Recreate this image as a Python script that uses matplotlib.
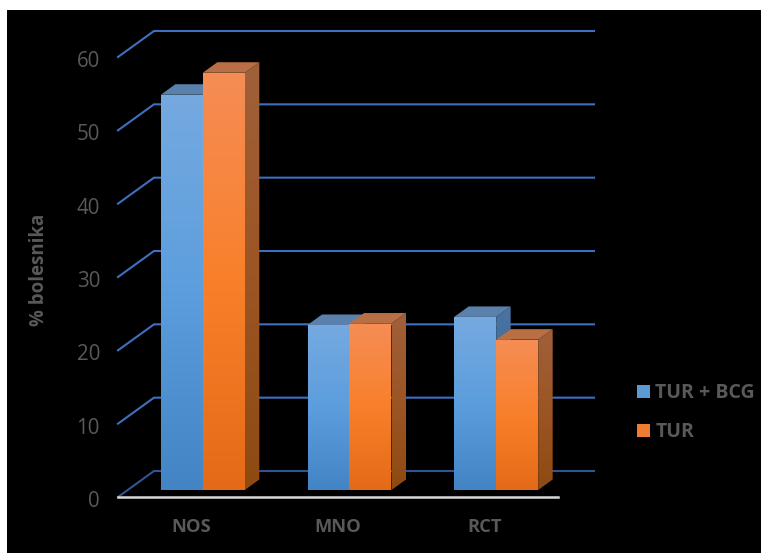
import numpy as np
import matplotlib
matplotlib.use("Agg")
import matplotlib.pyplot as plt
from matplotlib.colors import LinearSegmentedColormap
from matplotlib.patches import Patch, Polygon
from matplotlib.transforms import ScaledTranslation

# Data
categories = ["NOS", "MNO", "RCT"]
tur_bcg = [53.9, 22.5, 23.6]
tur = [56.9, 22.7, 20.5]
series_names = ["TUR + BCG", "TUR"]
y_ticks = [0, 10, 20, 30, 40, 50, 60]

W, H = 761, 553
PANEL_L, PANEL_T = 7, 10
PLANE_L, PLANE_R, PLANE_B, PLANE_T = 130, 570, 490, 50
X_UNIT = (PLANE_R - PLANE_L) / 3
Y_UNIT = (PLANE_B - PLANE_T) / 60

GREY = "#595959"
FONT = "Open Sans"

fig = plt.figure(figsize=(W / 100, H / 100), dpi=100, facecolor="white")
panel = fig.add_axes([PANEL_L / W, 0, 1 - PANEL_L / W, 1 - PANEL_T / H])
panel.set_facecolor("black")
panel.set_xticks([])
panel.set_yticks([])
for s in panel.spines.values():
    s.set_visible(False)

ax = fig.add_axes([PLANE_L / W, 1 - PLANE_B / H,
                   (PLANE_R - PLANE_L) / W, (PLANE_B - PLANE_T) / H])
ax.patch.set_alpha(0)
x_lim = (-0.5, 2.5)
y_lim = (0, 60)


def px(dx, dy):
    """Pixel offset (right, up) expressed in data units."""
    return dx / X_UNIT, dy / Y_UNIT


# Perspective offsets of the floor's front edge and of the back wall
fx, fy = px(-12, -7)
bx, by = px(24, 19)
# Depth of each bar
dx, dy = px(14.5, 10.5)
bar_w = 42 / X_UNIT


def gradient_fill(patch, colors, extent, zorder):
    ax.add_patch(patch)
    patch.set_visible(True)
    patch.set_facecolor("none")
    patch.set_edgecolor("none")
    patch.set_zorder(zorder)
    cmap = LinearSegmentedColormap.from_list("fill", colors)
    img = ax.imshow(np.linspace(0, 1, 256).reshape(-1, 1), cmap=cmap, aspect="auto",
                    extent=extent, origin="upper", zorder=zorder,
                    interpolation="bilinear")
    img.set_clip_path(patch)


# Gridlines on the back wall, with their slanted run along the side wall
for t in y_ticks:
    colour = "#2f5597" if t == 0 else "#3f6fc0"
    ax.plot([x_lim[0] + fx, x_lim[0] + bx, x_lim[1] + bx],
            [t + fy, t + by, t + by],
            color=colour, lw=1.5, clip_on=False, zorder=1, solid_joinstyle="miter")

# Floor edge
ax.plot([x_lim[0] + fx, x_lim[1] + fx], [fy, fy], color="#d9d9d9", lw=1.8,
        clip_on=False, zorder=2)

palettes = [
    {"front": ["#75a9e0", "#5c9edd", "#4384c4"], "side": ["#4a73a0", "#3d6a98", "#2f5c8c"],
     "top": "#5a80ac"},
    {"front": ["#f58d55", "#f9802b", "#e46a17"], "side": ["#a0603a", "#9c5524", "#8f4a12"],
     "top": "#b86f45"},
]

for k, (values, pal) in enumerate(zip([tur_bcg, tur], palettes)):
    base_z = 3 + k * 3
    positions = np.arange(len(categories)) + (k - 0.5) * bar_w - 0.5 / X_UNIT
    bars = ax.bar(positions, values, width=bar_w, color="none", zorder=base_z)
    for bar in bars:
        x0, x1 = bar.get_x(), bar.get_x() + bar.get_width()
        v = bar.get_height()
        side = Polygon([(x1, 0), (x1 + dx, dy), (x1 + dx, v + dy), (x1, v)], closed=True,
                       transform=ax.transData)
        side.set_clip_on(False)
        gradient_fill(side, pal["side"], (x1, x1 + dx, 0, v + dy), base_z)
        ax.add_patch(Polygon([(x0, v), (x0 + dx, v + dy), (x1 + dx, v + dy), (x1, v)],
                             closed=True, facecolor=pal["top"], edgecolor="none",
                             zorder=base_z + 1, clip_on=False))
        front = Polygon([(x0, 0), (x0, v), (x1, v), (x1, 0)], closed=True,
                        transform=ax.transData)
        gradient_fill(front, pal["front"], (x0, x1, 0, v), base_z + 2)

ax.set_xlim(*x_lim)
ax.set_ylim(*y_lim)
for s in ax.spines.values():
    s.set_visible(False)

# Tick labels sit on the floor's front plane
ax.set_yticks(y_ticks)
ax.set_yticklabels([str(t) for t in y_ticks], color=GREY, fontsize=14.8, fontfamily=FONT)
ax.set_xticks(range(len(categories)))
ax.set_xticklabels(categories, color=GREY, fontsize=13.2, fontweight="bold", fontfamily=FONT)
ax.tick_params(axis="y", length=0, pad=21.6)
ax.tick_params(axis="x", length=0, pad=20)
for lab in ax.get_yticklabels():
    lab.set_transform(lab.get_transform() + ScaledTranslation(0, -9 / 100, fig.dpi_scale_trans))
for lab in ax.get_xticklabels():
    lab.set_transform(lab.get_transform() + ScaledTranslation(-12 / 100, 0, fig.dpi_scale_trans))

fig.text(39 / W, 1 - 270 / H, "% bolesnika", rotation=90, ha="center", va="center",
         color=GREY, fontsize=13.4, fontweight="bold", fontfamily=FONT)

handles = [Patch(facecolor="#5b9bd5", label=series_names[0]),
           Patch(facecolor="#ed7d31", label=series_names[1])]
ax.legend(handles=handles, loc="upper left", bbox_to_anchor=(637 / W, 1 - 383 / H),
          bbox_transform=fig.transFigure, frameon=False, borderpad=0, borderaxespad=0,
          handlelength=0.67, handleheight=0.67, handletextpad=0.28, labelspacing=0.98,
          prop={"family": FONT, "weight": "bold", "size": 14}, labelcolor=GREY)

fig.savefig("out.png", dpi=100, facecolor="white")
